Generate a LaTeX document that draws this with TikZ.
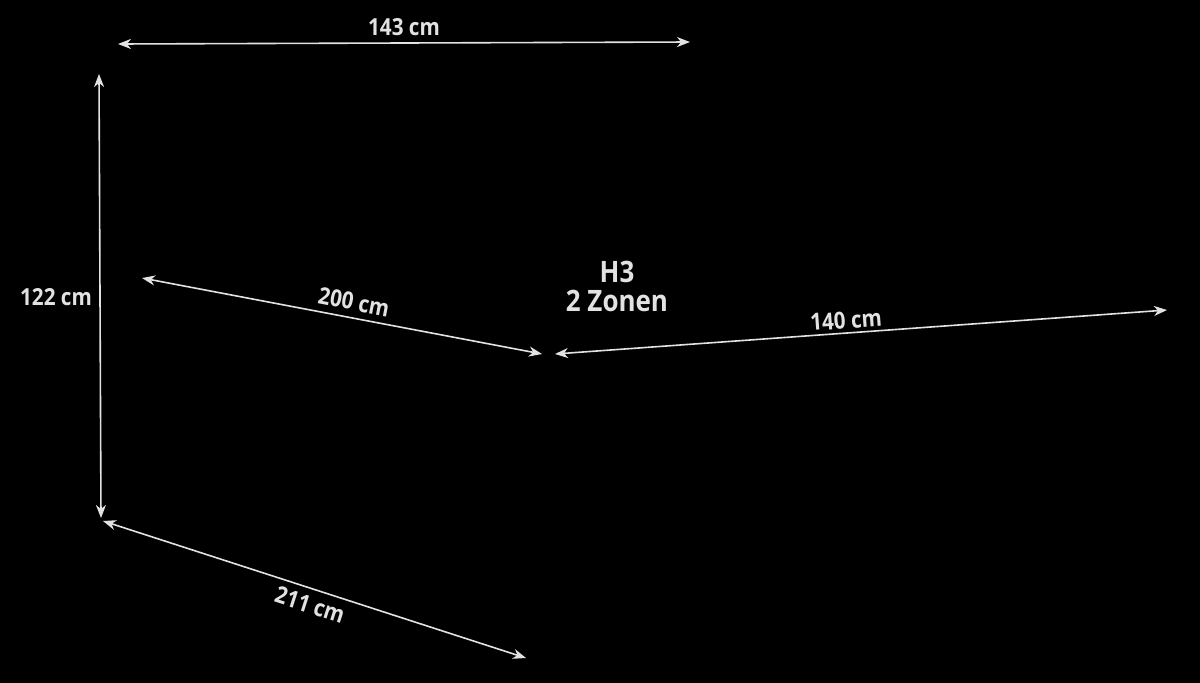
\documentclass[tikz,border=0pt]{standalone}
\usepackage{fontspec}
\setmainfont{Open Sans}[BoldFont={Open Sans Bold}, BoldFeatures={FakeStretch=0.88}]
\usetikzlibrary{arrows.meta}
\definecolor{fg}{HTML}{E2E2E2}
\tikzset{
  dim/.style={draw=fg, line width=1.6pt, {Stealth[length=13pt,width=10pt,inset=4pt]}-{Stealth[length=13pt,width=10pt,inset=4pt]}},
  lab/.style={text=fg, font=\bfseries\fontsize{23.5}{26}\selectfont, inner sep=0pt}
}
\begin{document}
\begin{tikzpicture}[x=1pt,y=-1pt]
\fill[black] (0,0) rectangle (1200,683);
\useasboundingbox (0,0) rectangle (1200,683);
% endpoints
\coordinate (a1) at (118,44);  \coordinate (a2) at (690,42);
\coordinate (b1) at (99,74);   \coordinate (b2) at (101,518);
\coordinate (c1) at (142,278); \coordinate (c2) at (542,354);
\coordinate (d1) at (555,354); \coordinate (d2) at (1167,310);
\coordinate (e1) at (103,521); \coordinate (e2) at (526,658);
\draw[dim] (a1) -- (a2);
\draw[dim] (b1) -- (b2);
\draw[dim] (c1) -- (c2);
\draw[dim] (d1) -- (d2);
\draw[dim] (e1) -- (e2);
\node[lab] (la) at (404,27) {143 cm};
\node[lab] (lb) at (56,297) {122 cm};
\node[lab, rotate=-10.8] (lc) at (354,302) {200 cm};
\node[lab, rotate=4.1] (ld) at (846,320) {140 cm};
\node[lab, rotate=-17.9] (le) at (310,605) {211 cm};
\node[text=fg, font=\bfseries\fontsize{29.5}{29}\selectfont, align=center, inner sep=0pt] (h) at (617,286) {H3\\2 Zonen};
\end{tikzpicture}
\end{document}
